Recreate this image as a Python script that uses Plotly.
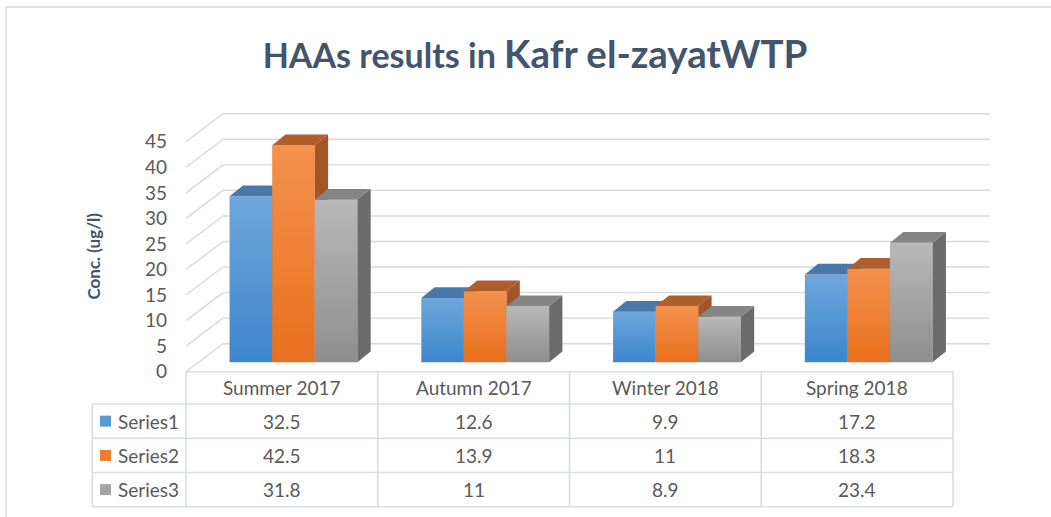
import plotly.graph_objects as go

# ---------------- data ----------------
categories = ["Summer 2017", "Autumn 2017", "Winter 2018", "Spring 2018"]
series_names = ["Series1", "Series2", "Series3"]
series1 = [32.5, 12.6, 9.9, 17.2]
series2 = [42.5, 13.9, 11, 18.3]
series3 = [31.8, 11, 8.9, 23.4]
table_text1 = ["32.5", "12.6", "9.9", "17.2"]
table_text2 = ["42.5", "13.9", "11", "18.3"]
table_text3 = ["31.8", "11", "8.9", "23.4"]
y_ticks = [0, 5, 10, 15, 20, 25, 30, 35, 40, 45]

all_series = [series1, series2, series3]
all_texts = [table_text1, table_text2, table_text3]

# ---------------- styling / geometry (pixels) ----------------
W, H = 1051, 517
FONT = "Lato"
TXT = "#595959"
GRID = "#D9D9D9"
TABLE_LINE = "#D9DDE3"

FRONT_LEFT_PX = 186.0
SLOT_PX = 191.75
BAR_FLOOR_PX = 362.3
FRONT_FLOOR_PX = 371.7
PX_PER_UNIT = 5.11
BACK_DX_PX, BACK_DY_PX = 37.0, 28.0
BAR_SHIFT_PX = 11.6
BAR_W_PX = 42.6
DEPTH_DX_PX, DEPTH_DY_PX = 13.3, 10.7

front_top = ["#6FA6DC", "#F4914D", "#B8B8B8"]
front_bot = ["#3C86CC", "#E86F1D", "#8E8E8E"]
top_col = ["#4A78A8", "#B05E2C", "#858585"]
side_col = ["#3E6C9E", "#A35528", "#6B6B6B"]
key_col = ["#5B9BD5", "#ED7D31", "#A5A5A5"]


def px_to_x(p):
    return (p - FRONT_LEFT_PX) / SLOT_PX - 0.5


def px_to_y(p):
    return (BAR_FLOOR_PX - p) / PX_PER_UNIT


def py(p):  # pixel row -> paper y
    return 1 - p / H


def pxp(p):  # pixel col -> paper x
    return p / W


bw = BAR_W_PX / SLOT_PX
shift = BAR_SHIFT_PX / SLOT_PX
ddx = DEPTH_DX_PX / SLOT_PX
ddy = DEPTH_DY_PX / PX_PER_UNIT
front_off = (FRONT_FLOOR_PX - BAR_FLOOR_PX) / PX_PER_UNIT  # front plane below bar plane
back_dx = BACK_DX_PX / SLOT_PX
back_dy = BACK_DY_PX / PX_PER_UNIT

fig = go.Figure()

# ---------------- walls / gridlines ----------------
gx, gy = [], []
n = len(categories)
for v in y_ticks:
    yf = v - front_off
    yb = yf + back_dy
    gx += [-0.5, -0.5 + back_dx, None]
    gy += [yf, yb, None]
    gx += [-0.5 + back_dx, n - 0.5 + back_dx, None]
    gy += [yb, yb, None]
fig.add_trace(go.Scatter(x=gx, y=gy, mode="lines", line=dict(color=GRID, width=1.4),
                         hoverinfo="skip", showlegend=False))

# ---------------- 3D bars ----------------
for s, vals in enumerate(all_series):
    tx, ty, sx, sy = [], [], [], []
    for c, v in enumerate(vals):
        xl = c - 1.5 * bw + s * bw + shift
        xr = xl + bw
        fig.add_trace(go.Scatter(
            x=[xl, xr, xr, xl, xl], y=[0, 0, v, v, 0], mode="lines",
            line=dict(width=0), fill="toself",
            fillgradient=dict(type="vertical", start=0, stop=v,
                              colorscale=[[0, front_bot[s]], [1, front_top[s]]]),
            name=series_names[s], hoverinfo="skip", showlegend=False))
        tx += [xl, xr, xr + ddx, xl + ddx, xl, None]
        ty += [v, v, v + ddy, v + ddy, v, None]
        sx += [xr, xr + ddx, xr + ddx, xr, xr, None]
        sy += [0, ddy, v + ddy, v, 0, None]
    fig.add_trace(go.Scatter(x=tx, y=ty, mode="lines", line=dict(width=0), fill="toself",
                             fillcolor=top_col[s], hoverinfo="skip", showlegend=False))
    fig.add_trace(go.Scatter(x=sx, y=sy, mode="lines", line=dict(width=0), fill="toself",
                             fillcolor=side_col[s], hoverinfo="skip", showlegend=False))

# dummy trace for tick axis
fig.add_trace(go.Scatter(x=[None], y=[None], yaxis="y2", showlegend=False, hoverinfo="skip"))

# ---------------- data table ----------------
ROWS_PX = [371.7, 404.0, 438.3, 472.5, 506.7]
LEGEND_LEFT_PX = 92.3
shapes = []
annotations = []
lw = 1.6
for i, rp in enumerate(ROWS_PX):
    x0 = pxp(FRONT_LEFT_PX) if i == 0 else pxp(LEGEND_LEFT_PX)
    shapes.append(dict(type="line", xref="paper", yref="paper", x0=x0, x1=pxp(FRONT_LEFT_PX + n * SLOT_PX),
                       y0=py(rp), y1=py(rp), line=dict(color=TABLE_LINE, width=lw)))
for k in range(n + 1):
    xp = pxp(FRONT_LEFT_PX + k * SLOT_PX)
    shapes.append(dict(type="line", xref="paper", yref="paper", x0=xp, x1=xp,
                       y0=py(ROWS_PX[0]), y1=py(ROWS_PX[-1]), line=dict(color=TABLE_LINE, width=lw)))
shapes.append(dict(type="line", xref="paper", yref="paper", x0=pxp(LEGEND_LEFT_PX), x1=pxp(LEGEND_LEFT_PX),
                   y0=py(ROWS_PX[1]), y1=py(ROWS_PX[-1]), line=dict(color=TABLE_LINE, width=lw)))

for c, cat in enumerate(categories):
    annotations.append(dict(x=c, y=py((ROWS_PX[0] + ROWS_PX[1]) / 2), xref="x", yref="paper",
                            text=cat, showarrow=False, xanchor="center", yanchor="middle",
                            font=dict(family=FONT, size=19, color=TXT)))
for s in range(3):
    ycp = (ROWS_PX[s + 1] + ROWS_PX[s + 2]) / 2
    yc = py(ycp)
    shapes.append(dict(type="rect", xref="paper", yref="paper", x0=pxp(100), x1=pxp(111),
                       y0=py(ycp - 5.5), y1=py(ycp + 5.5), line=dict(width=0), fillcolor=key_col[s]))
    annotations.append(dict(x=pxp(116), y=yc, xref="paper", yref="paper", text=series_names[s],
                            showarrow=False, xanchor="left", yanchor="middle",
                            font=dict(family=FONT, size=19, color=TXT)))
    for c in range(n):
        annotations.append(dict(x=c, y=yc, xref="x", yref="paper", text=all_texts[s][c],
                                showarrow=False, xanchor="center", yanchor="middle",
                                font=dict(family=FONT, size=19, color=TXT)))

annotations.append(dict(x=pxp(93.5), y=py(256), xref="paper", yref="paper", text="<b>Conc. (ug/l)</b>",
                        textangle=-90, showarrow=False, xanchor="center", yanchor="middle",
                        font=dict(family=FONT, size=17, color="#44546A")))

shapes.append(dict(type="rect", xref="paper", yref="paper", x0=pxp(6), x1=1.2, y0=-0.2, y1=py(7),
                   line=dict(color=GRID, width=1.5), layer="below"))

fig.update_layout(
    width=W, height=H,
    margin=dict(l=0, r=0, t=0, b=0),
    paper_bgcolor="white", plot_bgcolor="white",
    showlegend=False,
    title=dict(text="<b>HAAs results in <span style='font-size:38.5px'>Kafr el-zayatWTP</span></b>",
               x=pxp(535), y=py(56), xanchor="center", yanchor="middle", xref="paper", yref="paper",
               font=dict(family=FONT, size=34, color="#44546A")),
    xaxis=dict(range=[px_to_x(0), px_to_x(W)], visible=False, fixedrange=True),
    yaxis=dict(range=[px_to_y(H), px_to_y(0)], visible=False, fixedrange=True),
    yaxis2=dict(overlaying="y", anchor="free", position=pxp(167), side="left",
                range=[(FRONT_FLOOR_PX - H) / PX_PER_UNIT, FRONT_FLOOR_PX / PX_PER_UNIT],
                tickvals=y_ticks, ticks="", showgrid=False, zeroline=False, showline=False,
                tickfont=dict(family=FONT, size=19, color=TXT), fixedrange=True),
    shapes=shapes,
    annotations=annotations,
)

fig.write_html("out.html", config={"displayModeBar": False},
               post_script="document.body.style.margin='0px';document.body.style.overflow='hidden';")
